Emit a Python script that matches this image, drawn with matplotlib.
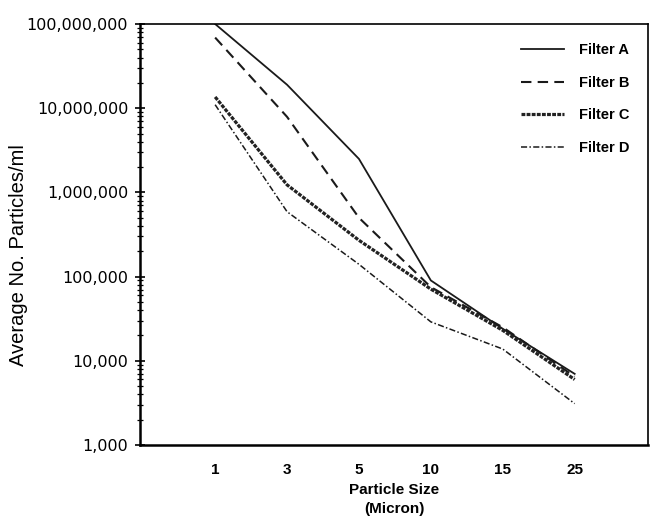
import matplotlib
matplotlib.use("Agg")
import matplotlib.pyplot as plt
from matplotlib.ticker import LogLocator, FixedLocator, NullFormatter

sizes = ["1", "3", "5", "10", "15", "25"]
filter_a = [1.0e8, 1.9e7, 2.5e6, 9.0e4, 2.4e4, 7.0e3]
filter_b = [6.9e7, 7.9e6, 5.0e5, 7.5e4, 2.5e4, 6.5e3]
filter_c = [1.36e7, 1.23e6, 2.7e5, 7.1e4, 2.3e4, 6.0e3]
filter_d = [1.1e7, 5.9e5, 1.4e5, 2.9e4, 1.38e4, 3.1e3]
y_ticks = [1e3, 1e4, 1e5, 1e6, 1e7, 1e8]
y_tick_labels = ["1,000", "10,000", "100,000", "1,000,000", "10,000,000", "100,000,000"]

plt.rcParams['font.family'] = ['Liberation Sans', 'DejaVu Sans']

W, H = 653, 529
L, R, T, B = 140, 648, 24, 445
fig = plt.figure(figsize=(W / 100, H / 100), dpi=100)
ax = fig.add_axes([L / W, 1 - B / H, (R - L) / W, (B - T) / H])

x = list(range(len(sizes)))
ax.plot(x, filter_a, color="#1a1a1a", lw=1.3, ls="-", label="Filter A")
ax.plot(x, filter_b, color="#1a1a1a", lw=1.5, ls=(0, (5, 3)), label="Filter B")
ax.plot(x, filter_c, color="#222222", lw=2.3, ls=(0, (1.2, 0.4)), label="Filter C")
ax.plot(x, filter_d, color="#1a1a1a", lw=1.1, ls=(0, (4, 1.5, 1, 1.5)), label="Filter D")

ax.set_yscale("log")
ax.set_ylim(1e3, 1e8)
ax.set_xlim(-1.045, 6.02)
ax.set_xticks(x)
ax.set_xticklabels(sizes, fontsize=11, fontweight="bold")
ax.tick_params(axis="x", length=0, pad=13)
ax.yaxis.set_major_locator(FixedLocator(y_ticks))
ax.set_yticklabels(y_tick_labels, fontsize=11.5, family=["DejaVu Sans"])
ax.yaxis.set_minor_locator(LogLocator(base=10, subs=range(2, 10)))
ax.yaxis.set_minor_formatter(NullFormatter())
ax.tick_params(axis="y", which="major", direction="inout", length=7, width=1.2, pad=5)
ax.tick_params(axis="y", which="minor", direction="inout", length=5, width=0.9)

for side in ["left", "bottom"]:
    ax.spines[side].set_linewidth(1.8)
for side in ["top", "right"]:
    ax.spines[side].set_linewidth(1.2)

ax.set_ylabel("Average No. Particles/ml", fontsize=14.5)
ax.yaxis.set_label_coords((28 - L) / (R - L), (B - 255) / (B - T))
ax.set_xlabel("Particle Size\n(Micron)", fontsize=11, fontweight="bold", linespacing=1.5)
ax.xaxis.set_label_coords(0.5, (B - 483) / (B - T))

leg = ax.legend(loc="upper right", frameon=False, handlelength=2.95,
                labelspacing=1.28, borderaxespad=0.9, handletextpad=1.0,
                prop={"size": 10.5, "weight": "bold"})

fig.savefig("out.png", dpi=100, facecolor="white")
